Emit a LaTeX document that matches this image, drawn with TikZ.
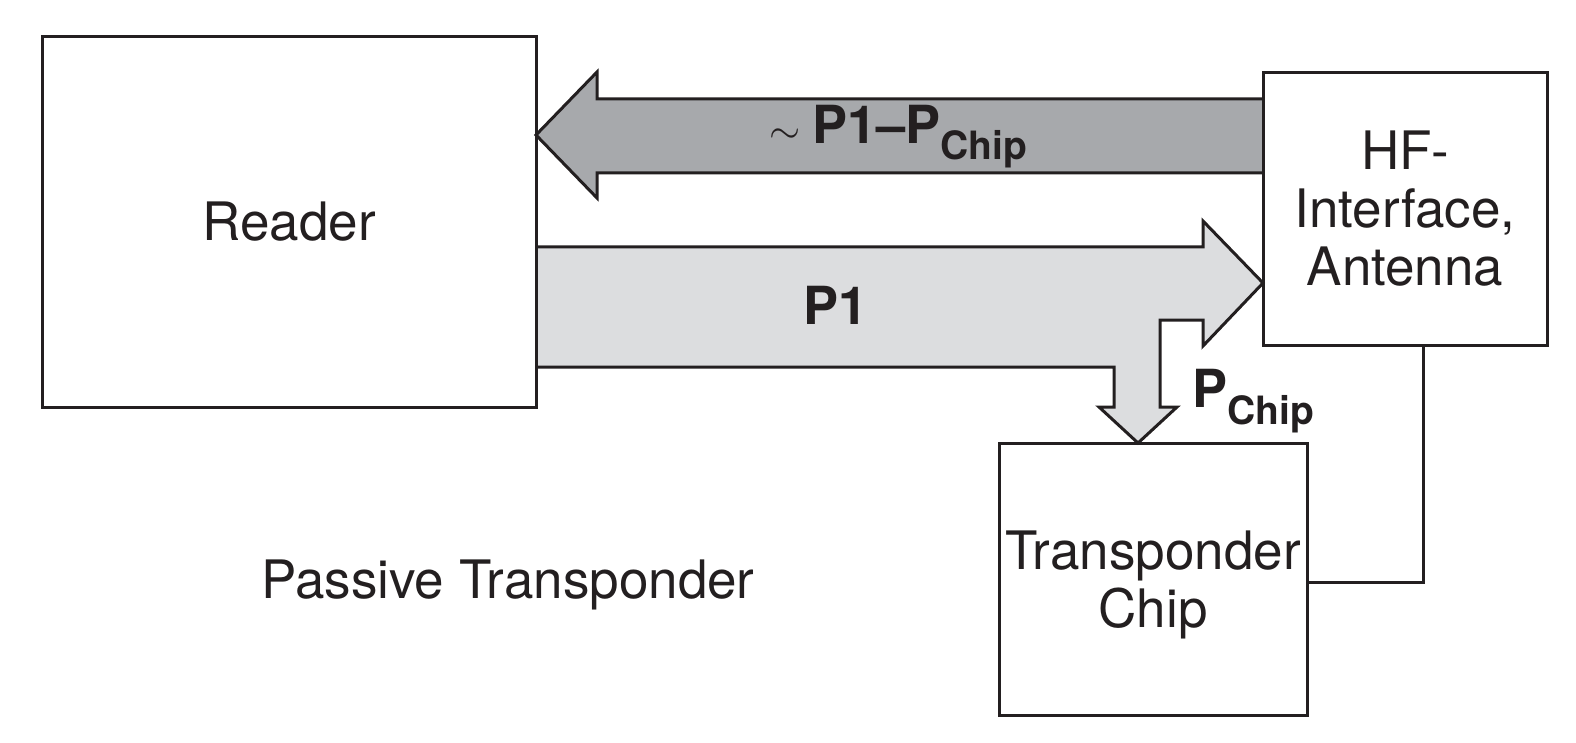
\RequirePackage{fix-cm}
\documentclass[tikz,border=0pt]{standalone}
\usepackage{fontspec}
\setmainfont{TeX Gyre Heros}
\definecolor{ink}{HTML}{231F20}
\definecolor{darkfill}{HTML}{A7A9AC}
\definecolor{lightfill}{HTML}{DCDDDF}
\begin{document}
\begin{tikzpicture}[x=1pt,y=-1pt,
  box/.style={draw=ink, line width=3pt, inner sep=0pt, align=center, text=ink,
    font=\fontsize{53}{58}\selectfont},
  fatarrow/.style={draw=ink, line width=3pt, line join=miter},
  boldlbl/.style={text=ink, inner sep=0pt, font=\fontsize{52.5}{52.5}\selectfont\bfseries},
  plainlbl/.style={text=ink, inner sep=0pt, font=\fontsize{53}{58}\selectfont},
  link/.style={draw=ink, line width=3pt}]
\useasboundingbox (0,0) rectangle (1576,743);

% power flow arrows
\draw[fatarrow, fill=darkfill] (1263,99) -- (597,99) -- (597,72) -- (536,135) -- (597,198) -- (597,173) -- (1263,173);
\draw[fatarrow, fill=lightfill] (536,247) -- (1203,247) -- (1203,221) -- (1263,283) -- (1203,346) -- (1203,320)
  -- (1160,320) -- (1160,407) -- (1177,407) -- (1138,443) -- (1099,407) -- (1114,407) -- (1114,367) -- (536,367);

% boxes
\node[box, minimum width=494pt, minimum height=370pt] (reader) at (289,222) {Reader};
\node[box, minimum width=284pt, minimum height=272pt] (hf) at (1405,209) {HF-\\Interface,\\Antenna};
\node[box, minimum width=308pt, minimum height=272pt, text depth=0pt] (chip) at (1153,579) {Transponder\\Chip};

% connector
\draw[link] ([xshift=18pt]hf.south) |- ([yshift=-3pt]chip.east);

% labels
\node[boldlbl, anchor=base west] (back) at (769,144)
  {{\fontsize{40}{40}\selectfont$\sim$}\hspace{12pt}P1\textendash P\raisebox{-16pt}{\fontsize{39}{39}\selectfont Chip}};
\node[boldlbl, anchor=base] (p1) at (836,324) {P1};
\node[boldlbl, anchor=base west] (pchip) at (1192,407)
  {P\raisebox{-17pt}{\fontsize{39}{39}\selectfont Chip}};
\node[plainlbl, anchor=base] (caption) at (508,598) {Passive Transponder};
\end{tikzpicture}
\end{document}
